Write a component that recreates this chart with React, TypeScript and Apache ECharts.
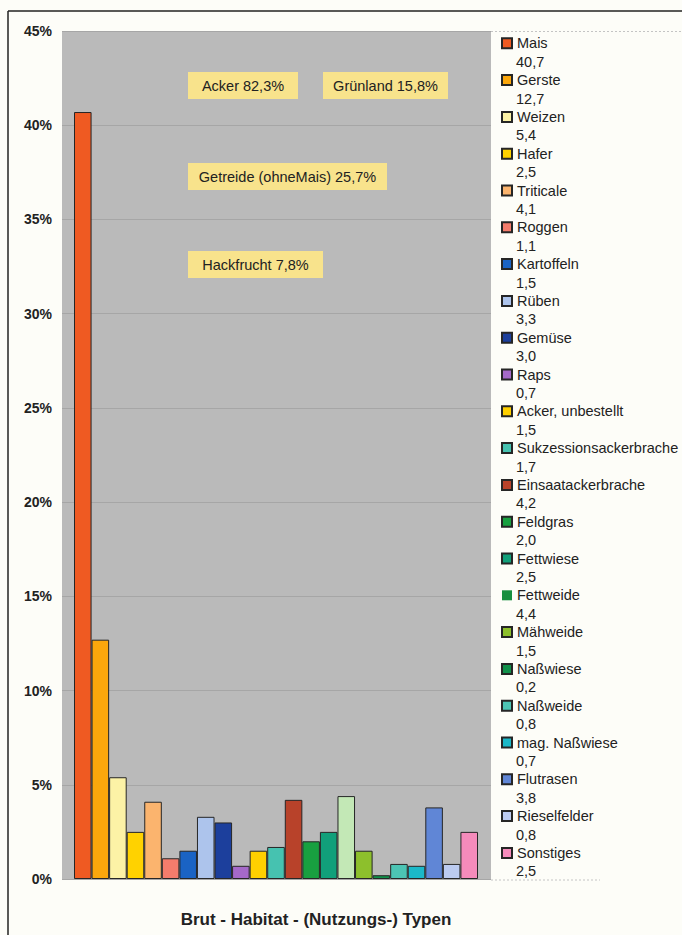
import React, { useEffect, useRef } from "react";
import * as echarts from "echarts";

const categories = [
  "Mais", "Gerste", "Weizen", "Hafer", "Triticale", "Roggen", "Kartoffeln", "Rüben",
  "Gemüse", "Raps", "Acker, unbestellt", "Sukzessionsackerbrache", "Einsaatackerbrache",
  "Feldgras", "Fettwiese", "Fettweide", "Mähweide", "Naßwiese", "Naßweide",
  "mag. Naßwiese", "Flutrasen", "Rieselfelder", "Sonstiges",
];
const values = [40.7, 12.7, 5.4, 2.5, 4.1, 1.1, 1.5, 3.3, 3.0, 0.7, 1.5, 1.7, 4.2, 2.0, 2.5, 4.4, 1.5, 0.2, 0.8, 0.7, 3.8, 0.8, 2.5];
const colors = [
  "#ef5a22", "#fba70c", "#fcf2a6", "#ffd200", "#fbb46e", "#f47c6c", "#1a63c4", "#adc4ec",
  "#1c3f9c", "#a569c9", "#ffd000", "#46c2b0", "#b8422a", "#18a040", "#11a07a", "#c3e8b6",
  "#8dc02c", "#10904a", "#4cc4b4", "#1bb8c8", "#6086d6", "#bccbf0", "#f58bbb",
];
const legendOverride: Record<string, string> = { Fettweide: "#178f3f" };
const yTicks = { min: 0, max: 45, interval: 5 };
const annotations = [
  { text: "Acker 82,3%", x: 188, y: 72, w: 110 },
  { text: "Grünland 15,8%", x: 323, y: 72, w: 125 },
  { text: "Getreide (ohneMais) 25,7%", x: 188, y: 163, w: 199 },
  { text: "Hackfrucht 7,8%", x: 188, y: 251, w: 135 },
];
const title = "Brut - Habitat - (Nutzungs-) Typen";

const fmt = (v: number) => v.toFixed(1).replace(".", ",");
const FONT = "Liberation Sans";

export default function App() {
  const ref = useRef<HTMLDivElement>(null);
  useEffect(() => {
    document.body.style.margin = "0";
    const chart = echarts.init(ref.current!, null, { renderer: "svg" });
    const lh = 18.4;
    const legendTop = 43.3 - lh / 2;
    const legendBase = {
      orient: "vertical",
      left: 501,
      padding: 0,
      itemWidth: 10,
      itemHeight: 10,
      itemGap: lh,
      selectedMode: false,
      icon: "rect",
    };
    chart.setOption({
      animation: false,
      backgroundColor: "#fdfdf8",
      textStyle: { fontFamily: FONT },
      grid: [
        { left: 74, right: 204, top: 31, bottom: 56 },
        { left: 62, right: 191, top: 31, bottom: 56, show: true, backgroundColor: "#bababa", borderWidth: 0 },
      ],
      xAxis: [
        { type: "category", gridIndex: 0, data: categories, show: false, boundaryGap: true },
        { type: "value", gridIndex: 1, show: false, min: 0, max: 1 },
      ],
      yAxis: [
        { type: "value", gridIndex: 0, ...yTicks, show: false },
        {
          type: "value", gridIndex: 1, ...yTicks,
          axisLine: { show: false }, axisTick: { show: false },
          axisLabel: { formatter: "{value}%", fontWeight: "bold", fontSize: 14, color: "#222", margin: 10, fontFamily: FONT },
          splitLine: { lineStyle: { color: "#a6a6a6", width: 1 } },
        },
      ],
      legend: [
        {
          ...legendBase,
          top: legendTop,
          data: categories.map((name) =>
            legendOverride[name] ? { name, itemStyle: { color: legendOverride[name], borderWidth: 0 } } : name
          ),
          textStyle: { fontSize: 14.5, lineHeight: lh, color: "#222", fontFamily: FONT },
        },
        {
          ...legendBase,
          top: legendTop + lh,
          data: categories.map((name) => ({ name, itemStyle: { opacity: 0, borderWidth: 0 } })),
          itemStyle: { opacity: 0, borderWidth: 0 },
          formatter: (name: string) => fmt(values[categories.indexOf(name)]),
          textStyle: { fontSize: 14.5, lineHeight: lh, color: "#222", fontFamily: FONT },
        },
      ],
      series: categories.map((name, i) => ({
        name,
        type: "bar",
        xAxisIndex: 0,
        yAxisIndex: 0,
        stack: "all",
        barWidth: "100%",
        data: values.map((v, j) => (j === i ? v : null)),
        itemStyle: { color: colors[i], borderColor: "#262626", borderWidth: 1 },
      })),
      graphic: [
        { type: "line", shape: { x1: 8, y1: 11, x2: 682, y2: 11 }, style: { stroke: "#222", lineWidth: 1.5 } },
        { type: "line", shape: { x1: 8, y1: 11, x2: 8, y2: 935 }, style: { stroke: "#222", lineWidth: 1.5 } },
        { type: "line", shape: { x1: 491, y1: 31.5, x2: 682, y2: 31.5 }, style: { stroke: "#c4c4c4", lineWidth: 1, lineDash: [2, 2] } },
        { type: "line", shape: { x1: 491, y1: 880, x2: 600, y2: 880 }, style: { stroke: "#c4c4c4", lineWidth: 1, lineDash: [2, 2] } },
        ...annotations.map((a) => ({
          type: "group",
          x: a.x,
          y: a.y,
          children: [
            { type: "rect", shape: { x: 0, y: 0, width: a.w, height: 27 }, style: { fill: "#f8e38c" } },
            {
              type: "text",
              x: a.w / 2,
              y: 13.5,
              style: { text: a.text, fill: "#222", fontSize: 14.5, fontFamily: FONT, textAlign: "center", textVerticalAlign: "middle" },
            },
          ],
        })),
        {
          type: "text",
          x: 316,
          y: 919,
          style: { text: title, fill: "#222", fontSize: 17, fontWeight: "bold", fontFamily: FONT, textAlign: "center", textVerticalAlign: "middle" },
        },
      ],
    });
    return () => chart.dispose();
  }, []);
  return <div ref={ref} style={{ position: "fixed", left: 0, top: 0, width: 682, height: 935 }} />;
}
